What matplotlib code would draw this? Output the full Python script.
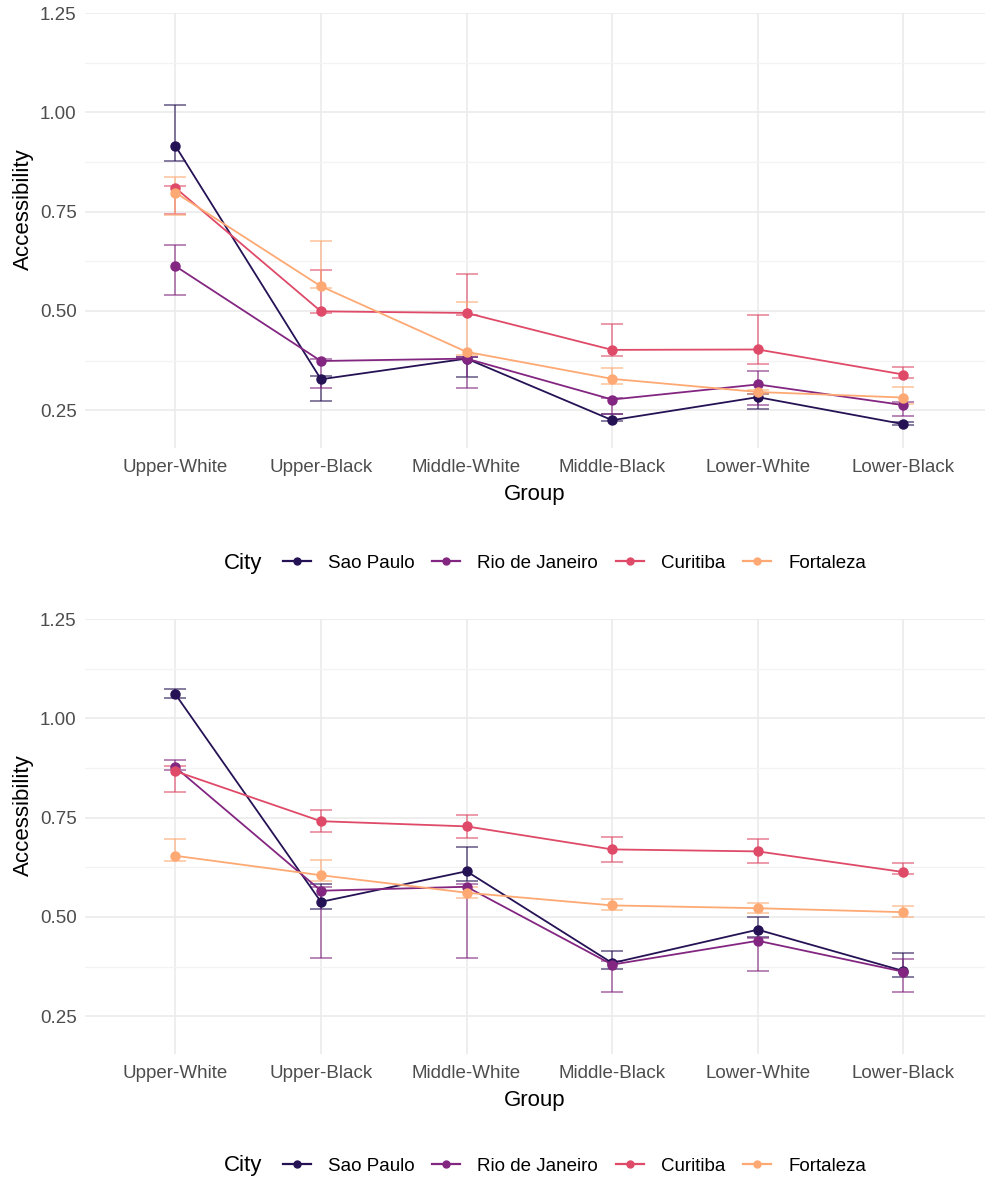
import matplotlib.pyplot as plt
from matplotlib import cm
from matplotlib.lines import Line2D
from matplotlib.ticker import MultipleLocator

plt.rcParams['font.family'] = ['Liberation Sans', 'DejaVu Sans']

groups = ['Upper-White', 'Upper-Black', 'Middle-White', 'Middle-Black', 'Lower-White', 'Lower-Black']
cities = ['Sao Paulo', 'Rio de Janeiro', 'Curitiba', 'Fortaleza']

# first panel: mean accessibility and interval bounds per city
top_mean = {
    'Sao Paulo':      [0.916, 0.328, 0.380, 0.225, 0.283, 0.215],
    'Rio de Janeiro': [0.613, 0.374, 0.380, 0.277, 0.315, 0.263],
    'Curitiba':       [0.810, 0.499, 0.495, 0.402, 0.403, 0.340],
    'Fortaleza':      [0.798, 0.562, 0.397, 0.329, 0.296, 0.282],
}
top_low = {
    'Sao Paulo':      [0.878, 0.273, 0.334, 0.222, 0.252, 0.212],
    'Rio de Janeiro': [0.539, 0.306, 0.306, 0.240, 0.263, 0.236],
    'Curitiba':       [0.745, 0.495, 0.490, 0.386, 0.366, 0.331],
    'Fortaleza':      [0.742, 0.557, 0.390, 0.315, 0.290, 0.267],
}
top_high = {
    'Sao Paulo':      [1.018, 0.335, 0.385, 0.240, 0.290, 0.220],
    'Rio de Janeiro': [0.665, 0.378, 0.385, 0.282, 0.350, 0.270],
    'Curitiba':       [0.815, 0.604, 0.593, 0.468, 0.491, 0.359],
    'Fortaleza':      [0.838, 0.675, 0.522, 0.357, 0.300, 0.308],
}

# second panel
bottom_mean = {
    'Sao Paulo':      [1.061, 0.538, 0.615, 0.384, 0.468, 0.364],
    'Rio de Janeiro': [0.877, 0.566, 0.576, 0.380, 0.440, 0.362],
    'Curitiba':       [0.867, 0.741, 0.728, 0.670, 0.665, 0.613],
    'Fortaleza':      [0.654, 0.605, 0.561, 0.529, 0.522, 0.512],
}
bottom_low = {
    'Sao Paulo':      [1.051, 0.520, 0.590, 0.370, 0.450, 0.350],
    'Rio de Janeiro': [0.870, 0.397, 0.397, 0.312, 0.364, 0.311],
    'Curitiba':       [0.815, 0.713, 0.698, 0.638, 0.636, 0.607],
    'Fortaleza':      [0.640, 0.590, 0.548, 0.517, 0.510, 0.501],
}
bottom_high = {
    'Sao Paulo':      [1.074, 0.582, 0.675, 0.415, 0.500, 0.408],
    'Rio de Janeiro': [0.896, 0.575, 0.584, 0.390, 0.447, 0.395],
    'Curitiba':       [0.880, 0.768, 0.756, 0.702, 0.695, 0.635],
    'Fortaleza':      [0.697, 0.643, 0.575, 0.545, 0.534, 0.527],
}

colors = [cm.magma(v) for v in (0.15, 0.377, 0.603, 0.82)]


def draw_panel(ax, means, lows, highs):
    x = list(range(len(groups)))
    for city, col in zip(cities, colors):
        m = means[city]
        lo = [a - b for a, b in zip(m, lows[city])]
        hi = [b - a for a, b in zip(m, highs[city])]
        ax.errorbar(x, m, yerr=[lo, hi], fmt='none', ecolor=col, alpha=0.6,
                    capsize=8, elinewidth=1.3, capthick=1.3, zorder=2)
        ax.plot(x, m, color=col, lw=1.3, marker='o', ms=6.5, zorder=3)

    ax.set_xlim(-0.62, 5.56)
    ax.set_ylim(0.155, 1.25)
    ax.set_xticks(x)
    ax.set_xticklabels(groups)
    ax.yaxis.set_major_locator(MultipleLocator(0.25))
    ax.yaxis.set_minor_locator(MultipleLocator(0.125))
    ax.yaxis.set_major_formatter(lambda v, p: f'{v:.2f}')
    ax.grid(which='major', color='#EBEBEB', lw=1.2, zorder=0)
    ax.grid(which='minor', axis='y', color='#F3F3F3', lw=0.9, zorder=0)
    ax.set_axisbelow(True)
    for s in ax.spines.values():
        s.set_visible(False)
    ax.tick_params(which='both', length=0, labelsize=13.5, labelcolor='#4D4D4D')
    ax.tick_params(axis='x', pad=8)
    ax.tick_params(axis='y', pad=6)
    ax.set_xlabel('Group', fontsize=16, labelpad=6)
    ax.set_ylabel('Accessibility', fontsize=16)
    ax.yaxis.set_label_coords(-0.057, 0.548)


def draw_legend(fig, y):
    fig.text(243 / 986, y, 'City', fontsize=16, ha='center', va='center')
    handles = [Line2D([], [], color=c, lw=1.6, marker='o', ms=5) for c in colors]
    fig.legend(handles, cities, loc='center left', bbox_to_anchor=(266 / 986, y),
               ncol=4, frameon=False, fontsize=13.5, handlelength=1.5,
               handletextpad=0.9, columnspacing=0.95)


fig = plt.figure(figsize=(9.86, 11.8), dpi=100)
ax1 = fig.add_axes([85 / 986, 1 - 448 / 1180, 900 / 986, 435 / 1180])
ax2 = fig.add_axes([85 / 986, 1 - 1054 / 1180, 900 / 986, 435 / 1180])

draw_panel(ax1, top_mean, top_low, top_high)
draw_panel(ax2, bottom_mean, bottom_low, bottom_high)
draw_legend(fig, 1 - 563 / 1180)
draw_legend(fig, 1 - 1166 / 1180)

fig.savefig('out.png', dpi=100, facecolor='white')
